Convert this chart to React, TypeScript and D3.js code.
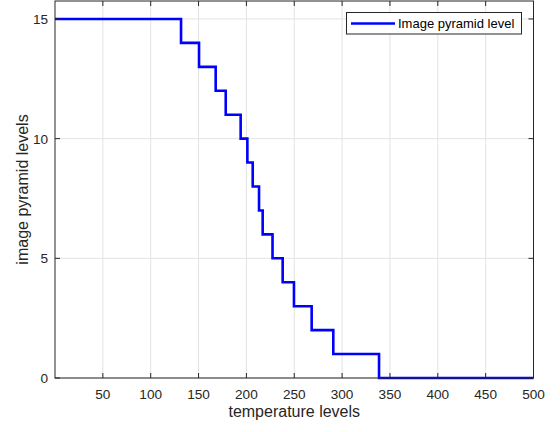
import React from 'react';
import * as d3 from 'd3';

const width = 560;
const height = 432;

// temperature levels where the pyramid level drops by one
const dropPoints = [131.7, 150.5, 167.9, 178.4, 194, 201, 206.6, 213.2, 217, 227.3, 237.9, 249.7, 268.2, 290.8, 338.6];
const startLevel = 15;
const xTicks = [50, 100, 150, 200, 250, 300, 350, 400, 450, 500];
const yTicks = [0, 5, 10, 15];
const seriesName = 'Image pyramid level';

const margin = { left: 55, right: 26.5, top: 1, bottom: 54 };

export default function App() {
  const x = d3.scaleLinear().domain([0, 500]).range([margin.left, width - margin.right]);
  const y = d3.scaleLinear().domain([0, 15.75]).range([height - margin.bottom, margin.top]);

  // build step points: level holds until each drop point
  const pts: [number, number][] = [[0, startLevel]];
  dropPoints.forEach((dx, i) => {
    pts.push([dx, startLevel - i]);
    pts.push([dx, startLevel - i - 1]);
  });
  pts.push([500, startLevel - dropPoints.length]);

  const line = d3.line<[number, number]>().x(d => x(d[0])).y(d => y(d[1]));

  const x0 = x(0), x1 = x(500), yb = y(0), yt = y(15.75);
  const axisColor = '#262626';
  const font = '"Liberation Sans", Arial, sans-serif';

  return (
    <svg width={width} height={height} style={{ position: 'absolute', left: 0, top: 0, background: '#fff' }}>
      <rect x={0} y={0} width={width} height={height} fill="#fff" />
      {/* grid */}
      {xTicks.map(t => (
        <line key={'gx' + t} x1={x(t)} x2={x(t)} y1={yb} y2={yt} stroke="#e3e3e3" strokeWidth={1} />
      ))}
      {yTicks.map(t => (
        <line key={'gy' + t} x1={x0} x2={x1} y1={y(t)} y2={y(t)} stroke="#e3e3e3" strokeWidth={1} />
      ))}
      {/* data */}
      <path d={line(pts) || ''} fill="none" stroke="#0000ff" strokeWidth={2.6} />
      {/* box */}
      <rect x={x0} y={yt} width={x1 - x0} height={yb - yt} fill="none" stroke={axisColor} strokeWidth={1} />
      {/* ticks */}
      {xTicks.map(t => (
        <g key={'tx' + t}>
          <line x1={x(t)} x2={x(t)} y1={yb} y2={yb - 5} stroke={axisColor} />
          <line x1={x(t)} x2={x(t)} y1={yt} y2={yt + 5} stroke={axisColor} />
          <text x={x(t)} y={yb + 20.5} textAnchor="middle" fontSize={13.6} fontFamily={font} fill={axisColor}>{t}</text>
        </g>
      ))}
      {yTicks.map(t => (
        <g key={'ty' + t}>
          <line x1={x0} x2={x0 + 5} y1={y(t)} y2={y(t)} stroke={axisColor} />
          <line x1={x1} x2={x1 - 5} y1={y(t)} y2={y(t)} stroke={axisColor} />
          <text x={x0 - 7} y={y(t) + 4.9} textAnchor="end" fontSize={13.6} fontFamily={font} fill={axisColor}>{t}</text>
        </g>
      ))}
      {/* axis labels */}
      <text x={(x0 + x1) / 2} y={417} textAnchor="middle" fontSize={16} fontFamily={font} fill={axisColor}>temperature levels</text>
      <text transform={`translate(27.5, ${(yb + yt) / 2}) rotate(-90)`} textAnchor="middle" fontSize={16} fontFamily={font} fill={axisColor}>image pyramid levels</text>
      {/* legend */}
      <g>
        <rect x={346.5} y={12.5} width={175} height={21.5} fill="#fff" stroke={axisColor} strokeWidth={1} />
        <line x1={351} x2={395} y1={23.5} y2={23.5} stroke="#0000ff" strokeWidth={2.6} />
        <text x={398} y={28.3} fontSize={13} fontFamily={font} fill="#000">{seriesName}</text>
      </g>
    </svg>
  );
}
